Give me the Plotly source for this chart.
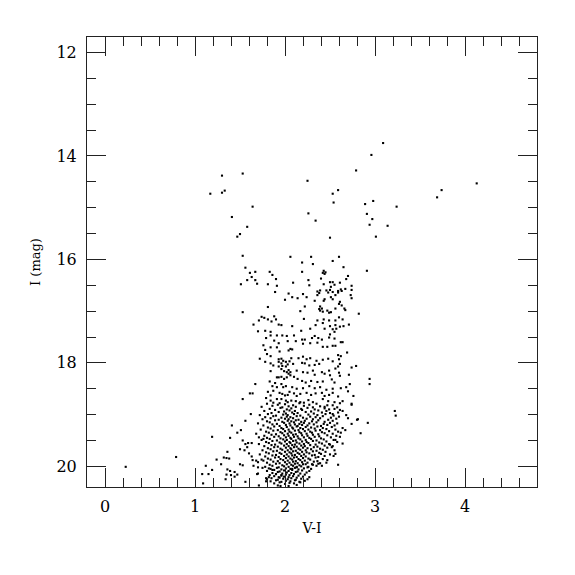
import plotly.graph_objects as go

# Bright stars (AGB / upper giants), I < 16
upper = [(3.09,13.75),(2.96,13.98),(2.79,14.28),(1.30,14.38),(1.53,14.34),(2.25,14.48),(1.17,14.73),
         (1.30,14.71),(1.33,14.67),(2.53,14.73),(2.59,14.66),(2.54,14.90),(1.64,14.98),(2.89,14.93),
         (2.98,14.87),(3.24,14.98),(2.26,15.11),(2.34,15.25),(2.91,15.12),(2.97,15.22),(2.94,15.33),
         (3.14,15.35),(3.01,15.56),(2.50,15.58),(1.41,15.18),(1.58,15.37),(1.50,15.51),(1.47,15.56),
         (1.53,15.93),(4.13,14.53),(3.74,14.66),(3.69,14.80)]

# Red giant branch, 15.9 < I < 17.25
rgb = [(1.56,16.16),(1.61,16.26),(1.67,16.24),(1.63,16.34),(1.83,16.24),(1.86,16.30),(1.90,16.38),
       (2.06,15.95),(2.19,16.06),(2.29,15.95),(2.31,16.09),(2.19,16.24),(2.53,16.03),(2.60,15.95),
       (2.65,16.15),(2.43,16.22),(2.45,16.25),(2.44,16.28),(2.42,16.26),(2.70,16.32),(2.91,16.22),
       (2.68,16.38),(1.58,16.40),(1.67,16.40),(1.51,16.48),(1.69,16.47),(1.81,16.48),(1.91,16.51),
       (1.89,16.63),(2.04,16.66),(2.00,16.78),(1.81,16.92),(1.53,17.02),(1.74,17.11),(1.77,17.13),
       (1.81,17.16),(1.71,17.18),(1.88,17.10),(1.90,17.16),(1.85,17.20),(2.26,16.40),(2.40,16.37),
       (2.27,16.50),(2.09,16.45),(2.50,16.44),(2.53,16.44),(2.55,16.49),(2.51,16.53),(2.61,16.45),
       (2.43,16.48),(2.74,16.51),(2.59,16.61),(2.59,16.64),(2.62,16.58),(2.63,16.61),(2.67,16.57),
       (2.74,16.59),(2.36,16.62),(2.38,16.65),(2.36,16.69),(2.39,16.60),(2.46,16.60),(2.48,16.64),
       (2.50,16.59),(2.53,16.63),(2.20,16.67),(2.08,16.73),(2.14,16.75),(2.24,16.73),(2.33,16.80),
       (2.43,16.80),(2.44,16.77),(2.51,16.73),(2.53,16.77),(2.56,16.69),(2.73,16.69),(2.74,16.75),
       (2.61,16.82),(2.63,16.89),(2.60,16.86),(2.66,16.95),(2.67,16.98),(2.22,16.91),(2.17,17.00),
       (2.39,16.91),(2.41,16.95),(2.39,16.99),(2.42,17.01),(2.38,16.96),(2.47,16.99),(2.49,17.03),
       (2.51,17.02),(2.56,16.95),(2.82,17.05),(2.21,17.15),(2.36,17.18),(2.43,17.16),(2.49,17.18),
       (2.56,17.18),(2.60,17.12),(2.64,17.16)]

# Middle section, 17.2 < I < 18.8
mid = [(1.65,17.26),(1.78,17.38),(1.84,17.40),(1.93,17.26),(1.96,17.27),(1.70,17.39),(1.84,17.47),
       (1.91,17.47),(1.97,17.47),(1.79,17.52),(2.02,17.48),(2.03,17.58),(1.88,17.57),(1.93,17.62),
       (1.91,17.70),(1.76,17.66),(1.78,17.75),(1.84,17.70),(1.94,17.78),(2.04,17.76),(1.80,17.83),
       (1.72,17.92),(1.84,17.87),(1.78,17.98),(1.84,18.01),(1.93,17.93),(1.96,17.92),(1.93,17.98),
       (1.96,18.01),(1.98,17.96),(2.01,17.98),(2.03,18.03),(1.87,18.05),(1.93,18.07),(1.97,18.06),
       (2.01,18.07),(2.04,18.14),(1.96,18.12),(1.99,18.16),(2.02,18.18),(2.04,18.21),(2.06,18.18),
       (1.84,18.16),(1.91,18.28),(1.93,18.28),(1.96,18.27),(1.99,18.31),(2.02,18.28),(1.83,18.36),
       (1.89,18.39),(1.67,18.41),(1.86,18.45),(1.91,18.47),(1.96,18.41),(1.98,18.47),(2.01,18.45),
       (1.61,18.59),(1.64,18.59),(1.81,18.56),(1.84,18.63),(1.87,18.54),(1.94,18.58),(1.97,18.60),
       (2.00,18.63),(2.03,18.62),(2.05,18.56),(1.79,18.68),(1.84,18.73),(1.91,18.70),(1.96,18.70),
       (2.01,18.73),(1.53,18.70),(1.87,18.77),(1.94,18.78),(2.03,18.76),
       (2.08,17.29),(2.18,17.38),(2.28,17.34),(2.34,17.27),(2.42,17.23),(2.44,17.34),(2.50,17.29),
       (2.53,17.35),(2.55,17.40),(2.56,17.27),(2.57,17.34),(2.61,17.30),(2.65,17.29),(2.71,17.26),
       (2.10,17.47),(2.19,17.55),(2.22,17.55),(2.30,17.52),(2.33,17.48),(2.37,17.52),(2.41,17.55),
       (2.49,17.51),(2.50,17.45),(2.55,17.53),(2.62,17.60),(2.64,17.60),(2.12,17.58),(2.20,17.63),
       (2.28,17.62),(2.36,17.61),(2.42,17.69),(2.47,17.69),(2.53,17.67),(2.56,17.67),(2.06,17.73),
       (2.08,17.74),(2.69,17.80),(2.59,17.85),(2.62,17.87),(2.60,17.93),(2.07,17.91),(2.15,17.91),
       (2.20,17.88),(2.24,17.93),(2.28,17.91),(2.35,17.96),(2.42,17.94),(2.48,17.92),(2.53,17.97),
       (2.05,17.97),(2.09,18.02),(2.19,18.00),(2.22,18.01),(2.27,18.05),(2.33,18.04),(2.38,18.02),
       (2.61,18.02),(2.56,18.11),(2.59,18.07),(2.74,18.09),(2.79,18.06),(2.13,18.15),(2.20,18.18),
       (2.25,18.19),(2.31,18.15),(2.33,18.23),(2.41,18.18),(2.44,18.21),(2.49,18.15),(2.50,18.24),
       (2.60,18.19),(2.61,18.25),(2.71,18.23),(2.06,18.24),(2.10,18.27),(2.14,18.31),(2.94,18.31),
       (2.94,18.41),(2.19,18.35),(2.23,18.38),(2.29,18.35),(2.36,18.37),(2.42,18.36),(2.52,18.32),
       (2.55,18.38),(2.72,18.41),(2.68,18.47),(2.62,18.49),(2.08,18.47),(2.13,18.50),(2.20,18.49),
       (2.27,18.45),(2.33,18.49),(2.39,18.47),(2.46,18.52),(2.53,18.50),(2.70,18.55),(2.76,18.64),
       (2.10,18.59),(2.13,18.64),(2.17,18.60),(2.24,18.58),(2.29,18.62),(2.34,18.59),(2.41,18.58),
       (2.44,18.64),(2.49,18.62),(2.53,18.58),(2.59,18.65),(2.07,18.73),(2.12,18.74),(2.17,18.76),
       (2.21,18.77),(2.26,18.72),(2.31,18.76),(2.42,18.70),(2.48,18.74),(2.55,18.76),(2.64,18.74),
       (2.61,18.78)]

# Faint blue-side stars
blue = [(0.23,20.01),(0.79,19.82),(1.19,19.43),(1.62,18.99),(1.56,19.12),(1.41,19.21),(1.51,19.30),
        (1.47,19.35),(1.39,19.45),(1.53,19.50),(1.56,19.57),(1.59,19.55),(1.63,19.55),(1.58,19.63),
        (1.71,19.44),(1.76,19.47),(1.50,19.67),(1.55,19.69),(1.36,19.72),(1.32,19.83),(1.35,19.84),
        (1.38,19.85),(1.24,19.87),(1.29,19.96),(1.60,19.75),(1.63,19.81),(1.64,19.88),(1.68,19.89),
        (1.70,19.92),(1.74,19.87),(1.65,19.99),(1.70,20.02),(1.75,20.03),(1.50,19.96),(1.53,19.98),
        (1.12,19.99),(1.19,20.07),(1.08,20.15),(1.15,20.15),(1.36,20.06),(1.39,20.09),(1.35,20.16),
        (1.40,20.17),(1.44,20.20),(1.44,20.11),(1.47,20.16),(1.34,20.25),(1.09,20.33),(1.56,20.30),
        (1.70,20.14),(1.69,20.15),(1.79,20.23),(1.79,20.29),(1.95,20.38),(1.71,20.37),(1.82,20.04),
        (1.86,20.07),(1.90,20.15),(1.93,20.21),(1.96,20.17)]

# Faint red-side stars
red = [(2.74,18.79),(2.92,19.16),(2.84,19.36),(2.81,19.09),(2.74,19.18),(2.70,19.07),(2.68,19.01),
       (2.64,19.26),(2.62,19.35),(2.67,19.30),(2.61,19.43),(2.64,19.56),(2.56,19.49),(2.59,19.97),
       (2.54,19.80),(2.52,19.63),(2.50,19.58),(2.46,19.93),(2.41,19.99),(2.30,19.96),(2.56,19.76),
       (2.59,18.96),(2.61,18.91),(2.64,18.93),(2.58,18.86),(2.53,18.82),(2.49,18.90),(2.53,18.99),
       (2.25,20.02),(2.20,19.96),(2.13,20.01),(2.08,20.05),(3.22,18.93),(3.23,19.02),(2.80,19.10),
       (2.74,18.81)]

# Dense faint core, 18.8 < I < 20.4
core = [(1.80,18.79),(1.92,18.81),(2.00,18.80),(2.09,18.82),(2.16,18.78),(2.27,18.81),(2.35,18.79),(2.47,18.82),
        (1.74,18.85),(1.86,18.83),(1.97,18.86),(2.04,18.84),(2.12,18.85),(2.21,18.83),(2.31,18.86),(2.39,18.84),(2.44,18.85),
        (1.83,18.89),(1.95,18.87),(2.02,18.90),(2.07,18.88),(2.18,18.89),(2.25,18.87),(2.33,18.90),(2.44,18.88),(2.55,18.89),
        (1.77,18.93),(1.89,18.91),(1.99,18.94),(2.05,18.92),(2.11,18.93),(2.19,18.91),(2.29,18.94),(2.37,18.92),(2.46,18.93),
        (1.85,18.97),(1.93,18.95),(2.01,18.98),(2.08,18.96),(2.14,18.97),(2.23,18.95),(2.32,18.98),(2.41,18.96),(2.50,18.97),
        (1.72,19.01),(1.81,18.99),(1.90,19.02),(1.98,19.00),(2.03,19.01),(2.10,18.99),(2.17,19.02),(2.26,19.00),(2.36,19.01),(2.45,18.99),(2.54,19.02),
        (1.78,19.05),(1.87,19.03),(1.96,19.06),(2.02,19.04),(2.06,19.05),(2.13,19.03),(2.20,19.06),(2.28,19.04),(2.34,19.05),(2.42,19.03),(2.51,19.06),(2.60,19.04),
        (1.75,19.09),(1.84,19.07),(1.93,19.10),(2.00,19.08),(2.04,19.09),(2.09,19.07),(2.15,19.10),(2.24,19.08),(2.31,19.09),(2.39,19.07),(2.48,19.10),(2.57,19.08),
        (1.80,19.13),(1.89,19.11),(1.97,19.14),(2.03,19.12),(2.07,19.13),(2.12,19.11),(2.18,19.14),(2.22,19.12),(2.30,19.13),(2.37,19.11),(2.44,19.14),(2.53,19.12),
        (1.70,19.17),(1.83,19.15),(1.91,19.18),(1.99,19.16),(2.05,19.17),(2.10,19.15),(2.16,19.18),(2.21,19.16),(2.27,19.17),(2.35,19.15),(2.43,19.18),(2.50,19.16),(2.58,19.17),
        (1.76,19.21),(1.86,19.19),(1.94,19.22),(2.01,19.20),(2.06,19.21),(2.11,19.19),(2.14,19.22),(2.19,19.20),(2.25,19.21),(2.32,19.19),(2.40,19.22),(2.47,19.20),(2.55,19.21),
        (1.81,19.25),(1.88,19.23),(1.96,19.26),(2.02,19.24),(2.08,19.25),(2.13,19.23),(2.17,19.26),(2.23,19.24),(2.29,19.25),(2.36,19.23),(2.42,19.26),(2.52,19.24),
        (1.73,19.29),(1.84,19.27),(1.92,19.30),(1.98,19.28),(2.04,19.29),(2.09,19.27),(2.15,19.30),(2.20,19.28),(2.26,19.29),(2.33,19.27),(2.39,19.30),(2.46,19.28),(2.56,19.29),
        (1.79,19.33),(1.87,19.31),(1.95,19.34),(2.00,19.32),(2.05,19.33),(2.11,19.31),(2.16,19.34),(2.22,19.32),(2.28,19.33),(2.34,19.31),(2.41,19.34),(2.49,19.32),(2.59,19.33),
        (1.68,19.37),(1.82,19.35),(1.90,19.38),(1.97,19.36),(2.03,19.37),(2.07,19.35),(2.12,19.38),(2.18,19.36),(2.24,19.37),(2.30,19.35),(2.37,19.38),(2.44,19.36),(2.53,19.37),
        (1.77,19.41),(1.85,19.39),(1.93,19.42),(1.99,19.40),(2.04,19.41),(2.09,19.39),(2.14,19.42),(2.19,19.40),(2.25,19.41),(2.31,19.39),(2.38,19.42),(2.47,19.40),(2.57,19.41),
        (1.80,19.45),(1.88,19.43),(1.95,19.46),(2.01,19.44),(2.06,19.45),(2.10,19.43),(2.15,19.46),(2.21,19.44),(2.27,19.45),(2.33,19.43),(2.40,19.46),(2.51,19.44),
        (1.74,19.49),(1.83,19.47),(1.91,19.50),(1.98,19.48),(2.02,19.49),(2.07,19.47),(2.12,19.50),(2.17,19.48),(2.23,19.49),(2.29,19.47),(2.35,19.50),(2.43,19.48),(2.54,19.49),
        (1.79,19.53),(1.86,19.51),(1.94,19.54),(2.00,19.52),(2.05,19.53),(2.09,19.51),(2.13,19.54),(2.19,19.52),(2.24,19.53),(2.31,19.51),(2.38,19.54),(2.46,19.52),(2.58,19.53),
        (1.71,19.57),(1.82,19.55),(1.89,19.58),(1.96,19.56),(2.02,19.57),(2.06,19.55),(2.11,19.58),(2.16,19.56),(2.21,19.57),(2.26,19.55),(2.34,19.58),(2.41,19.56),(2.49,19.57),
        (1.77,19.61),(1.85,19.59),(1.92,19.62),(1.99,19.60),(2.04,19.61),(2.08,19.59),(2.13,19.62),(2.18,19.60),(2.22,19.61),(2.28,19.59),(2.36,19.62),(2.44,19.60),(2.53,19.61),
        (1.81,19.65),(1.88,19.63),(1.95,19.66),(2.01,19.64),(2.06,19.65),(2.10,19.63),(2.15,19.66),(2.20,19.64),(2.25,19.65),(2.32,19.63),(2.39,19.66),(2.47,19.64),
        (1.75,19.69),(1.84,19.67),(1.91,19.70),(1.97,19.68),(2.03,19.69),(2.07,19.67),(2.12,19.70),(2.17,19.68),(2.23,19.69),(2.29,19.67),(2.35,19.70),(2.42,19.68),(2.55,19.69),
        (1.79,19.73),(1.87,19.71),(1.94,19.74),(2.00,19.72),(2.05,19.73),(2.09,19.71),(2.14,19.74),(2.19,19.72),(2.24,19.73),(2.31,19.71),(2.38,19.74),(2.45,19.72),
        (1.72,19.77),(1.82,19.75),(1.90,19.78),(1.96,19.76),(2.02,19.77),(2.07,19.75),(2.11,19.78),(2.16,19.76),(2.21,19.77),(2.27,19.75),(2.33,19.78),(2.40,19.76),(2.50,19.77),
        (1.78,19.81),(1.86,19.79),(1.93,19.82),(1.99,19.80),(2.04,19.81),(2.08,19.79),(2.13,19.82),(2.18,19.80),(2.23,19.81),(2.30,19.79),(2.37,19.82),(2.44,19.80),
        (1.81,19.85),(1.89,19.83),(1.95,19.86),(2.01,19.84),(2.06,19.85),(2.10,19.83),(2.15,19.86),(2.20,19.84),(2.26,19.85),(2.34,19.83),(2.42,19.86),
        (1.76,19.89),(1.84,19.87),(1.92,19.90),(1.98,19.88),(2.03,19.89),(2.08,19.87),(2.12,19.90),(2.17,19.88),(2.22,19.89),(2.28,19.87),(2.36,19.90),(2.47,19.88),
        (1.80,19.93),(1.87,19.91),(1.94,19.94),(2.00,19.92),(2.05,19.93),(2.09,19.91),(2.14,19.94),(2.19,19.92),(2.25,19.93),(2.32,19.91),(2.39,19.94),
        (1.83,19.97),(1.90,19.95),(1.97,19.98),(2.02,19.96),(2.07,19.97),(2.11,19.95),(2.16,19.98),(2.23,19.96),(2.31,19.97),(2.37,19.95),
        (1.78,20.01),(1.86,19.99),(1.93,20.02),(1.99,20.00),(2.04,20.01),(2.09,19.99),(2.13,20.02),(2.18,20.00),(2.26,20.01),(2.35,19.99),
        (1.84,20.05),(1.91,20.03),(1.96,20.06),(2.01,20.04),(2.06,20.05),(2.11,20.03),(2.15,20.06),(2.21,20.04),(2.29,20.05),
        (1.80,20.09),(1.88,20.07),(1.94,20.10),(1.99,20.08),(2.04,20.09),(2.08,20.07),(2.14,20.10),(2.19,20.08),(2.27,20.09),
        (1.86,20.13),(1.92,20.11),(1.97,20.14),(2.02,20.12),(2.07,20.13),(2.12,20.11),(2.17,20.14),(2.24,20.12),
        (1.83,20.17),(1.90,20.15),(1.96,20.18),(2.01,20.16),(2.05,20.17),(2.10,20.15),(2.15,20.18),(2.22,20.16),
        (1.82,20.21),(1.88,20.19),(1.94,20.22),(1.99,20.20),(2.04,20.21),(2.09,20.19),(2.13,20.22),(2.20,20.20),(2.27,20.21),
        (1.80,20.25),(1.85,20.23),(1.92,20.26),(1.98,20.24),(2.03,20.25),(2.07,20.23),(2.12,20.26),(2.18,20.24),(2.25,20.25),
        (1.84,20.29),(1.90,20.27),(1.96,20.30),(2.01,20.28),(2.06,20.29),(2.11,20.27),(2.16,20.30),(2.22,20.28),
        (1.88,20.33),(1.94,20.31),(2.00,20.34),(2.05,20.32),(2.10,20.33),(2.17,20.31),
        (1.92,20.37),(2.04,20.38),(2.13,20.36)]

stars = upper + rgb + mid + blue + red + core
vi = [p[0] for p in stars]
imag = [p[1] for p in stars]

FONT = "DejaVu Serif"

fig = go.Figure(go.Scatter(
    x=vi, y=imag, mode="markers",
    marker=dict(symbol="square", size=2.1, color="black", line=dict(width=0)),
    hoverinfo="skip", showlegend=False))

axis_common = dict(
    showgrid=False, zeroline=False, showline=True, linecolor="#222", linewidth=1,
    mirror="allticks", ticks="inside", tickcolor="#222", tickwidth=1, ticklen=19,
    tickfont=dict(family=FONT, size=16, color="black"),
)

fig.update_layout(
    width=575, height=575,
    margin=dict(l=79, r=46, t=29, b=96),
    paper_bgcolor="white", plot_bgcolor="white",
    xaxis=dict(range=[-0.2, 4.8], dtick=1, tick0=0, ticklabelstandoff=5,
               minor=dict(dtick=0.2, tick0=0, ticklen=9, ticks="inside", tickcolor="#222"),
               title=dict(text="V-I", font=dict(family=FONT, size=14, color="black"), standoff=7),
               **axis_common),
    yaxis=dict(range=[20.4, 11.7], dtick=2, tick0=12, ticklabelstandoff=6,
               minor=dict(dtick=0.5, tick0=12, ticklen=9, ticks="inside", tickcolor="#222"),
               title=dict(text="I (mag)", font=dict(family=FONT, size=13, color="black"), standoff=12),
               **axis_common),
)

fig.write_html("out.html")
